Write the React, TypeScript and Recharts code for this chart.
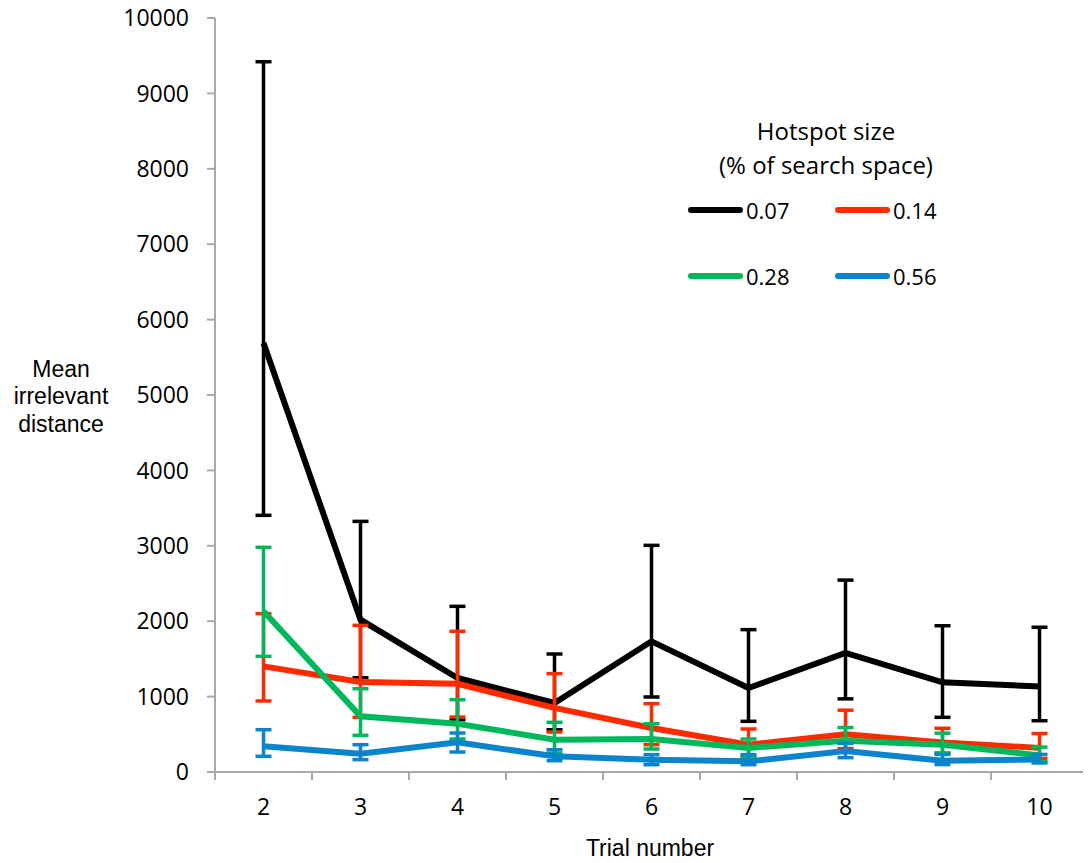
import { ErrorBar, Label, Line, LineChart, XAxis, YAxis } from "recharts"

const trials = [2, 3, 4, 5, 6, 7, 8, 9, 10]
const yTicks = [0, 1000, 2000, 3000, 4000, 5000, 6000, 7000, 8000, 9000, 10000]

// means and error bar ends
const mean007 = [5690, 2020, 1247, 915, 1733, 1114, 1580, 1190, 1135]
const high007 = [9420, 3324, 2197, 1565, 3006, 1888, 2545, 1940, 1920]
const low007 = [3404, 1250, 694, 560, 995, 672, 970, 725, 680]

const mean014 = [1401, 1194, 1170, 850, 584, 363, 500, 390, 320]
const high014 = [2100, 1945, 1866, 1304, 906, 570, 820, 580, 510]
const low014 = [942, 725, 729, 530, 363, 200, 310, 250, 180]

const mean028 = [2131, 738, 641, 429, 438, 318, 415, 360, 220]
const high028 = [2980, 1105, 959, 659, 641, 438, 590, 515, 330]
const low028 = [1534, 486, 438, 250, 305, 200, 270, 250, 140]

const mean056 = [340, 243, 393, 208, 164, 141, 277, 150, 165]
const high056 = [561, 362, 517, 296, 230, 230, 380, 233, 233]
const low056 = [208, 164, 265, 150, 97, 97, 190, 98, 120]

const series = [
  { key: "s007", name: "0.07", color: "#000000", mean: mean007, high: high007, low: low007 },
  { key: "s014", name: "0.14", color: "#ff2a00", mean: mean014, high: high014, low: low014 },
  { key: "s028", name: "0.28", color: "#00b85c", mean: mean028, high: high028, low: low028 },
  { key: "s056", name: "0.56", color: "#0a84cd", mean: mean056, high: high056, low: low056 },
]

const rows = trials.map((t, i) => {
  const row: Record<string, number | number[]> = { trial: t }
  series.forEach((s) => {
    row[s.key] = s.mean[i]
    row[s.key + "_err"] = [s.mean[i] - s.low[i], s.high[i] - s.mean[i]]
  })
  return row
})

// tick marks sit between categories, as in the original
const bounds = [trials[0] - 0.5, ...trials.map((t) => t + 0.5)]

const axisGray = "#a9a9a9"
const tickFont = "'Open Sans', sans-serif"
const titleFont = "'Liberation Sans', Arial, sans-serif"

function LegendBox() {
  const item = (s: (typeof series)[number]) => (
    <div key={s.key} style={{ display: "flex", alignItems: "center", width: 147 }}>
      <div style={{ width: 55, height: 6, borderRadius: 3, background: s.color, marginRight: 3 }} />
      <span>{s.name}</span>
    </div>
  )
  return (
    <div
      style={{
        position: "absolute",
        left: 680,
        top: 106,
        width: 300,
        fontFamily: tickFont,
        fontSize: 22,
        color: "#000",
      }}
    >
      <div style={{ textAlign: "center", fontSize: 24, lineHeight: "34px", paddingRight: 24 }}>Hotspot size</div>
      <div style={{ textAlign: "center", fontSize: 24, lineHeight: "34px", paddingRight: 24 }}>(% of search space)</div>
      <div style={{ display: "flex", marginTop: 13 }}>{series.slice(0, 2).map(item)}</div>
      <div style={{ display: "flex", marginTop: 36 }}>{series.slice(2).map(item)}</div>
    </div>
  )
}

export default function App() {
  return (
    <div style={{ position: "relative", width: 1083, height: 855 }}>
      <LineChart width={1083} height={855} data={rows} margin={{ top: 10, right: 3, left: 0, bottom: 1 }}>
        <XAxis
          dataKey="trial"
          type="number"
          domain={[bounds[0], bounds[bounds.length - 1]]}
          ticks={bounds}
          interval={0}
          height={90}
          stroke={axisGray}
          strokeWidth={2}
          tickSize={8}
          tickMargin={19}
          tickFormatter={(v: number) => (trials.includes(v + 0.5) ? String(v + 0.5) : "")}
          tick={{ fill: "#000", fontSize: 23, fontFamily: tickFont, dx: 48.5 }}
        >
          <Label
            content={() => (
              <text x={642} y={848} textAnchor="middle" fontSize={23} fontFamily={titleFont} fill="#000">
                Trial number
              </text>
            )}
          />
        </XAxis>
        <YAxis
          type="number"
          domain={[0, 10000]}
          ticks={yTicks}
          interval={0}
          width={207}
          stroke={axisGray}
          strokeWidth={2}
          tickSize={8}
          tickMargin={18}
          tick={{ fill: "#000", fontSize: 23, fontFamily: tickFont }}
        >
          <Label
            content={() => (
              <text textAnchor="middle" fontSize={23} fontFamily={titleFont} fill="#000">
                <tspan x={53} y={369}>Mean</tspan>
                <tspan x={53} y={396}>irrelevant</tspan>
                <tspan x={53} y={424}>distance</tspan>
              </text>
            )}
          />
        </YAxis>
        {series.map((s) => (
          <Line
            key={s.key}
            dataKey={s.key}
            name={s.name}
            stroke={s.color}
            strokeWidth={6}
            dot={false}
            activeDot={false}
            isAnimationActive={false}
          >
            <ErrorBar dataKey={s.key + "_err"} width={8} strokeWidth={3.5} stroke={s.color} direction="y" />
          </Line>
        ))}
      </LineChart>
      <LegendBox />
    </div>
  )
}
